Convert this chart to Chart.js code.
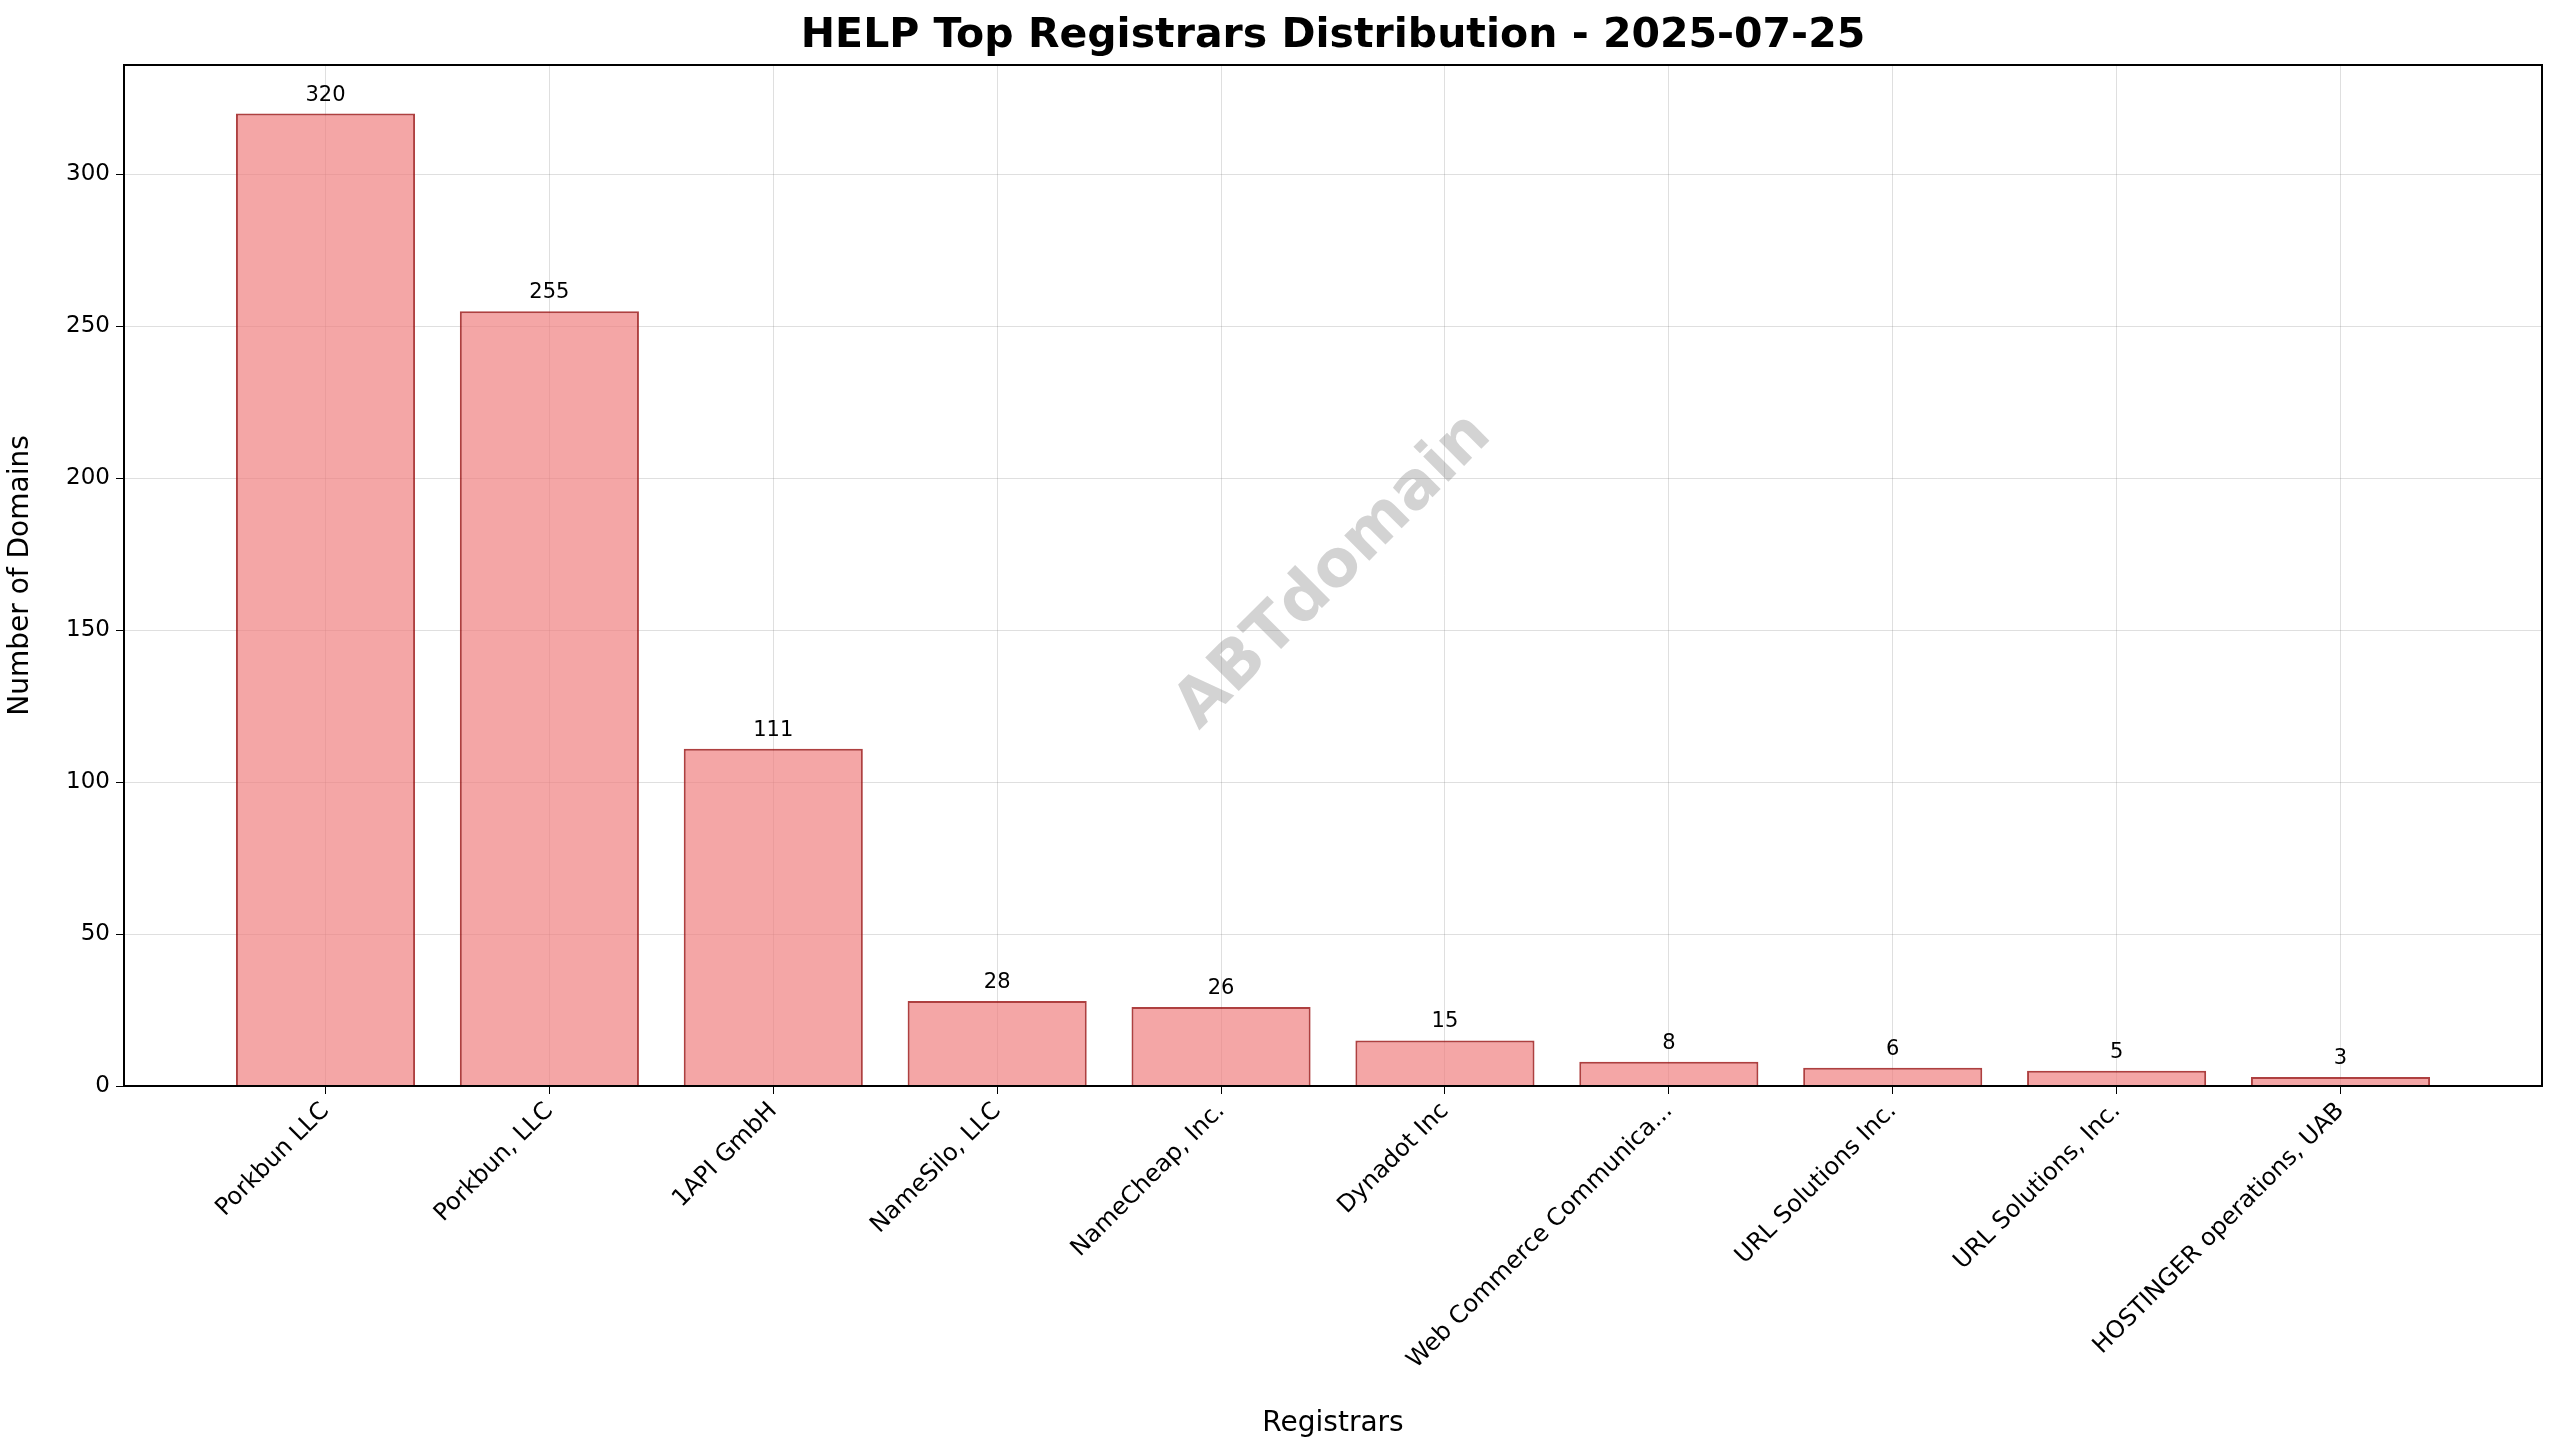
<!DOCTYPE html>
<html><head><meta charset="utf-8">
<script src="https://cdn.jsdelivr.net/npm/chart.js@4"></script>
<style>html,body{margin:0;padding:0;background:#fff}#w{width:2560px;height:1455px}</style>
</head><body><div id="w"><canvas id="c" width="2560" height="1455"></canvas></div>
<script>
const registrars = ["Porkbun LLC","Porkbun, LLC","1API GmbH","NameSilo, LLC","NameCheap, Inc.","Dynadot Inc","Web Commerce Communica...","URL Solutions Inc.","URL Solutions, Inc.","HOSTINGER operations, UAB"];
const domainCounts = [320,255,111,28,26,15,8,6,5,3];
const yTicks = [0,50,100,150,200,250,300];
const titleText = "HELP Top Registrars Distribution - 2025-07-25";
const FONT = "'DejaVu Sans', sans-serif";

const overlay = {
  id:'overlay',
  afterDatasetsDraw(chart){
    const ctx = chart.ctx, a = chart.chartArea;
    ctx.save();
    ctx.strokeStyle='#000'; ctx.lineWidth=2;
    ctx.strokeRect(a.left,a.top,a.right-a.left,a.bottom-a.top);
    ctx.fillStyle='#000'; ctx.font='21px '+FONT; ctx.textAlign='center'; ctx.textBaseline='bottom';
    chart.getDatasetMeta(0).data.forEach((b,i)=>{ ctx.fillText(String(domainCounts[i]), b.x, b.y-8); });
    ctx.translate(1334,572); ctx.rotate(-Math.PI/4);
    ctx.fillStyle='rgba(128,128,128,0.35)'; ctx.font='bold 65px '+FONT; ctx.textAlign='center'; ctx.textBaseline='middle';
    ctx.fillText('ABTdomain',0,0);
    ctx.restore();
    ctx.save(); ctx.fillStyle='#000'; ctx.font='bold 41px '+FONT; ctx.textAlign='center'; ctx.textBaseline='middle';
    ctx.fillText(titleText,(a.left+a.right)/2,36); ctx.restore();
  }
};

new Chart(document.getElementById('c'),{
  type:'bar',
  data:{datasets:[{data:domainCounts.map((v,i)=>({x:i,y:v})),
    backgroundColor:'rgba(240,128,128,0.7)',borderColor:'rgba(160,30,30,0.85)',borderWidth:2,
    barPercentage:0.8,categoryPercentage:1}]},
  options:{responsive:false,animation:false,devicePixelRatio:1,
    layout:{padding:{top:65,right:18,left:0,bottom:0}},
    plugins:{legend:{display:false},tooltip:{enabled:false}},
    scales:{
      x:{type:'linear',min:-0.9,max:9.9,offset:false,
        afterBuildTicks(s){s.ticks=registrars.map((_,i)=>({value:i}));},
        afterFit(s){s.height=369;},
        ticks:{autoSkip:false,maxRotation:45,minRotation:45,color:'#000',font:{family:FONT,size:24},
          callback:(v)=>registrars[v]??''},
        grid:{offset:false,color:'rgba(128,128,128,0.25)',tickLength:8,tickColor:'#000',drawOnChartArea:true},
        border:{display:false},
        title:{display:true,text:'Registrars',color:'#000',font:{family:FONT,size:28},padding:{top:0,bottom:14}}},
      y:{min:0,max:336,
        afterBuildTicks(s){s.ticks=yTicks.map(v=>({value:v}));},
        afterFit(s){s.width=124;},
        ticks:{color:'#000',font:{family:FONT,size:23},padding:6},
        grid:{color:'rgba(128,128,128,0.25)',tickLength:8,tickColor:'#000'},
        border:{display:false},
        title:{display:true,text:'Number of Domains',color:'#000',font:{family:FONT,size:28},padding:{bottom:10}}}
    }},
  plugins:[overlay]
});
</script></body></html>
